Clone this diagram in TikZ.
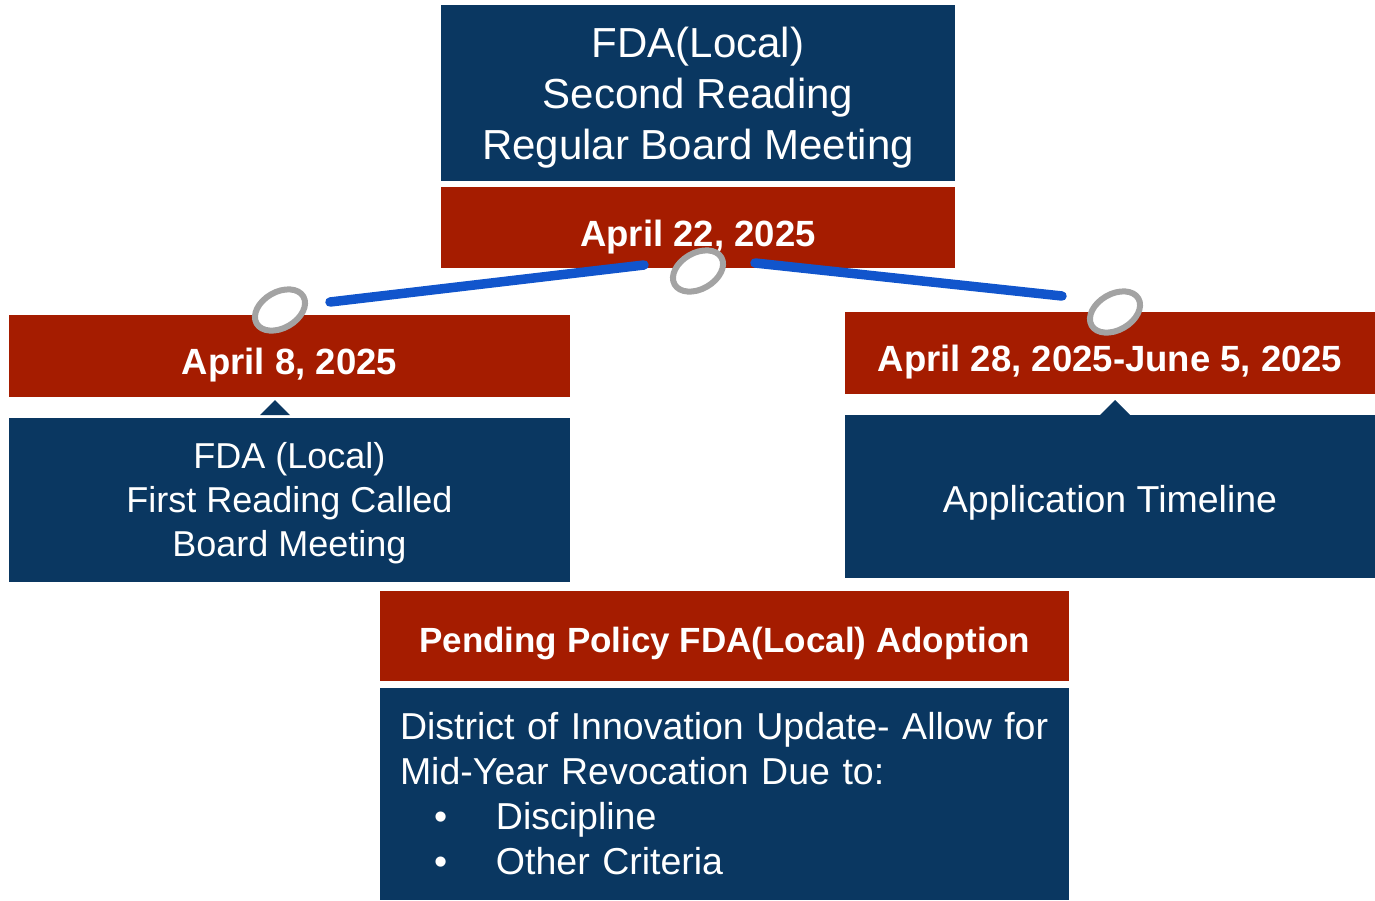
\documentclass[tikz,border=0pt]{standalone}
\usepackage{fontspec}
\setmainfont{Liberation Sans}
\usepackage{xcolor}
\usepackage{tikz}
\usetikzlibrary{shapes.geometric, positioning}
\definecolor{boardnavy}{HTML}{0A3761}
\definecolor{daterust}{HTML}{A51C00}
\definecolor{ringgray}{HTML}{A3A3A3}
\definecolor{linkblue}{HTML}{1155CC}

\begin{document}
\begin{tikzpicture}[
    x=1pt, y=1pt,
    node distance=6pt,
    block/.style={rectangle, fill=boardnavy, text=white, inner sep=0pt, outer sep=0pt, align=center},
    dateblock/.style={rectangle, fill=daterust, text=white, inner sep=0pt, outer sep=0pt, align=center, text height=37pt, text depth=0pt, font=\fontsize{36.5}{44}\selectfont\bfseries},
    ring/.style={ellipse, draw=ringgray, fill=white, line width=6pt, minimum width=54pt, minimum height=36pt, inner sep=0pt, rotate=30},
    link/.style={draw=linkblue, line width=9.5pt, line cap=round}
]
    \useasboundingbox (0,0) rectangle (1375,-900);

    % Top Layer - Second Reading
    \node[block, minimum width=514pt, minimum height=176pt, text depth=0pt, font=\fontsize{42}{51}\selectfont] (second) at (698,-93) {FDA(Local)\\Second Reading\\Regular Board Meeting};
    \node[dateblock, minimum width=514pt, minimum height=81pt, below=6pt of second] (d22) {April 22, 2025};

    % Left Branch - First Reading
    \node[dateblock, minimum width=561pt, minimum height=82pt] (d8) at (289.5,-356) {April 8, 2025};
    \node[block, minimum width=561pt, minimum height=164pt, below=21pt of d8, text depth=2pt, font=\fontsize{36}{44}\selectfont] (first) {FDA (Local)\\First Reading Called\\Board Meeting};

    % Right Branch - Application Timeline
    \node[dateblock, minimum width=530pt, minimum height=82pt] (d28) at (1110,-353) {April 28, 2025-June 5, 2025};
    \node[block, minimum width=530pt, minimum height=163pt, below=21pt of d28, text height=31.5pt, text depth=0pt, font=\fontsize{37.5}{45}\selectfont] (app) {Application Timeline};

    % Bottom Layer - Pending Policy
    \node[dateblock, minimum width=689pt, minimum height=90pt, text height=32pt, font=\fontsize{35}{42}\selectfont\bfseries] (pend) at (724.5,-636) {Pending Policy FDA(Local) Adoption};
    \node[block, minimum width=689pt, minimum height=212pt, below=7pt of pend, text width=649pt, align=left, font=\fontsize{37.5}{45}\selectfont] (doi) {District of Innovation Update- Allow for\\Mid-Year Revocation Due to:\\\hspace*{34pt}\makebox[62pt][l]{\textbullet}Discipline\\\hspace*{34pt}\makebox[62pt][l]{\textbullet}Other Criteria};

    % Pointers
    \fill[boardnavy] (260,-415) -- (290,-415) -- (275,-400) -- cycle;
    \fill[boardnavy] (1100,-415) -- (1130,-415) -- (1115,-400) -- cycle;

    % Timeline Rings
    \node[ring] (c8) at (280,-310) {};
    \node[ring] (c22) at (698,-271) {};
    \node[ring] (c28) at (1115,-312) {};

    % Links
    \draw[link] ([shift={(50,8)}]c8.center) -- ([shift={(-54,6)}]c22.center);
    \draw[link] ([shift={(57,8)}]c22.center) -- ([shift={(-53,16)}]c28.center);

\end{tikzpicture}
\end{document}
